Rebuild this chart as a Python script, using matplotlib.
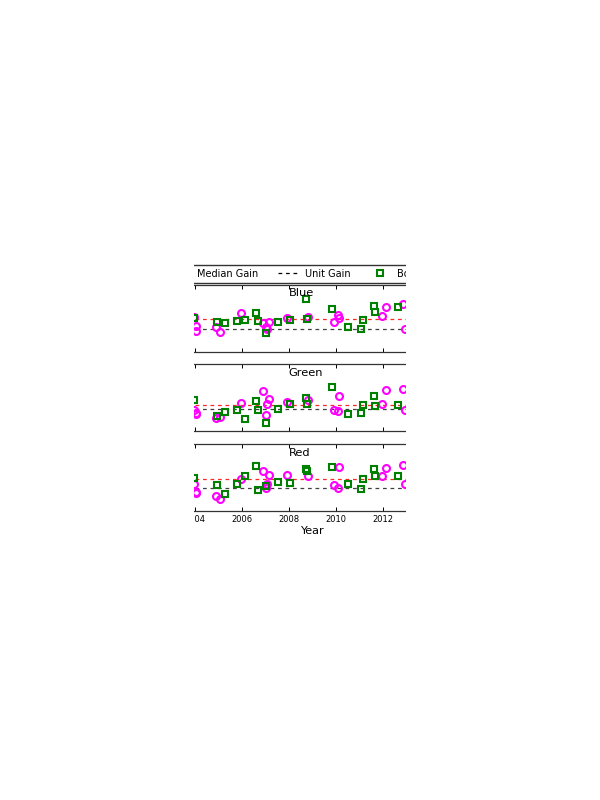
import matplotlib
matplotlib.use("Agg")
import matplotlib.pyplot as plt
from matplotlib.lines import Line2D
from matplotlib.patches import Rectangle

# ---- data ----
bands = ["Blue", "Green", "Red"]

box_years = [2003.99, 2004.96, 2005.28, 2005.78, 2006.16, 2006.60, 2006.70, 2007.04,
             2007.55, 2008.05, 2008.72, 2008.76, 2009.83, 2010.51, 2011.08, 2011.15,
             2011.64, 2011.68, 2012.64]
box_blue = [1.256, 1.172, 1.136, 1.188, 1.211, 1.362, 1.195, 0.924, 1.165, 1.211,
            1.678, 1.226, 1.459, 1.059, 1.001, 1.211, 1.533, 1.384, 1.497]
box_green = [1.193, 0.838, 0.929, 0.967, 0.777, 1.170, 0.967, 0.680, 1.003, 1.102,
             1.244, 1.102, 1.493, 0.890, 0.906, 1.080, 1.283, 1.057, 1.093]
box_red = [1.226, 1.075, 0.872, 1.091, 1.278, 1.504, 0.962, 1.053, 1.150, 1.114,
           1.429, 1.402, 1.474, 1.098, 0.978, 1.204, 1.429, 1.278, 1.278]

circ_years = [2003.98, 2004.04, 2004.07, 2004.92, 2005.07, 2005.99, 2006.91, 2007.03,
              2007.07, 2007.17, 2007.91, 2008.83, 2009.94, 2010.11, 2010.16, 2011.98,
              2012.12, 2012.85, 2012.96]
circ_blue = [1.271, 1.082, 0.962, 1.059, 0.947, 1.375, 1.136, 1.053, 1.008, 1.172,
             1.249, 1.271, 1.172, 1.323, 1.249, 1.301, 1.497, 1.565, 1.008]
circ_green = [0.974, 0.913, 0.883, 0.800, 0.816, 1.132, 1.396, 0.854, 1.116, 1.229,
              1.154, 1.206, 0.974, 0.951, 1.283, 1.116, 1.432, 1.441, 0.967]
circ_red = [1.098, 0.917, 0.906, 0.834, 0.753, 1.204, 1.391, 1.014, 1.091, 1.301,
            1.301, 1.285, 1.075, 1.014, 1.474, 1.278, 1.452, 1.526, 1.098]

median_gain = [1.233, 1.093, 1.204]
unit_gain = 1.0

box_vals = [box_blue, box_green, box_red]
circ_vals = [circ_blue, circ_green, circ_red]

# ---- layout (pixels on a 600x800 canvas) ----
W, H = 600, 800
fig = plt.figure(figsize=(6, 8), dpi=100)
fig.patch.set_facecolor("white")

ax_tops = [285, 364.5, 444]
ax_h = 66.5
ax_left, ax_right = 120, 480

dash = (0, (3, 3))
axes = []
for i, band in enumerate(bands):
    top = ax_tops[i]
    ax = fig.add_axes([ax_left / W, 1 - (top + ax_h) / H, (ax_right - ax_left) / W, ax_h / H])
    axes.append(ax)

    ax.axhline(median_gain[i], color="red", lw=0.9, ls=dash, alpha=0.85)
    ax.axhline(unit_gain, color="black", lw=0.9, ls=dash, alpha=0.75)
    ax.plot(circ_years, circ_vals[i], "o", mfc="none", mec="magenta", mew=1.5, ms=5.0)
    ax.plot(box_years, box_vals[i], "s", mfc="none", mec="green", mew=1.5, ms=4.6)

    ax.set_xlim(2000.82, 2016.14)
    ax.set_ylim(0.5, 2.0)
    ax.set_xticks(range(2002, 2017, 2))
    ax.set_yticks([0.5, 1.0, 1.5, 2.0])
    ax.xaxis.set_major_formatter(plt.FormatStrFormatter("%d"))
    ax.tick_params(direction="in", top=True, right=True, length=3, width=0.7,
                   labelsize=6, pad=3)
    for s in ax.spines.values():
        s.set_linewidth(0.9)
        s.set_color("#333333")
    if i < 2:
        ax.tick_params(labelbottom=False)

    ax.text((288.5 - ax_left) / (ax_right - ax_left), 1 - 8.5 / ax_h, band,
            transform=ax.transAxes, ha="left", va="center", fontsize=8.2)

axes[-1].set_xlabel("Year", fontsize=8)
axes[-1].xaxis.set_label_coords((313 - ax_left) / (ax_right - ax_left), -0.24)

# legend above the panels
handles = [
    Line2D([], [], color="red", lw=0.9, ls=dash),
    Line2D([], [], color="black", lw=0.9, ls=dash),
    Line2D([], [], ls="none", marker="s", mfc="none", mec="green", mew=1.5, ms=4.6),
    Line2D([], [], ls="none", marker="o", mfc="none", mec="magenta", mew=1.5, ms=5.0),
]
labels = ["Median Gain", "Unit Gain", "Boresight Gain", "Off-axis Gain"]
fig.legend(handles, labels, ncol=4, loc="upper left",
           bbox_to_anchor=(166 / W, 1 - 265 / H), borderaxespad=0,
           fontsize=7, frameon=True, fancybox=False, edgecolor="#333333",
           framealpha=1, numpoints=1)

# the reference only shows a window of the figure: blank out both sides
fig.add_artist(Rectangle((0, 0), 194 / W, 1, transform=fig.transFigure,
                         facecolor="white", edgecolor="none", zorder=100))
fig.add_artist(Rectangle((405.5 / W, 0), 1 - 405.5 / W, 1, transform=fig.transFigure,
                         facecolor="white", edgecolor="none", zorder=100))

fig.savefig("out.png", dpi=100, facecolor="white")
